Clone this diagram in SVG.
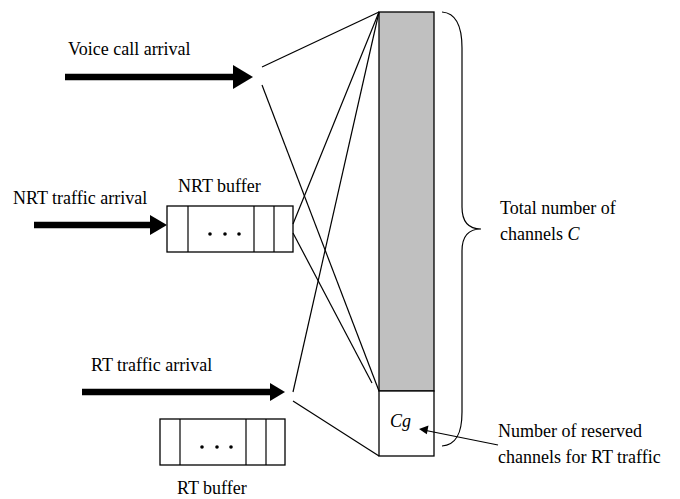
<svg xmlns="http://www.w3.org/2000/svg" width="680" height="499" viewBox="0 0 680 499">
<style>
text{font-family:'Liberation Serif','Times New Roman','DejaVu Serif',serif;font-size:18px;fill:#000}
.it{font-style:italic}
.ln{stroke:#000;stroke-width:1.2;fill:none}
.bx{stroke:#000;stroke-width:1.3;fill:#fff}
.shaft{stroke:#000;stroke-width:6.5}
</style>
<rect width="680" height="499" fill="#fff"/>

<g id="voice">
<text x="68" y="55">Voice call arrival</text>
<line class="shaft" x1="65" y1="77" x2="235" y2="77"/>
<polygon points="233,65 253,77 233,89" fill="#000"/>
</g>

<g id="nrt-arrival">
<text x="13" y="204">NRT traffic arrival</text>
<line class="shaft" x1="34" y1="225" x2="152" y2="225"/>
<polygon points="150,215 167,225 150,235" fill="#000"/>
</g>

<g id="nrt-buffer">
<text x="178" y="192">NRT buffer</text>
<rect class="bx" x="167" y="206" width="126" height="46"/>
<line class="ln" x1="188" y1="206" x2="188" y2="252"/>
<line class="ln" x1="254" y1="206" x2="254" y2="252"/>
<line class="ln" x1="274" y1="206" x2="274" y2="252"/>
<circle cx="210" cy="234" r="1.8"/>
<circle cx="225" cy="234" r="1.8"/>
<circle cx="239" cy="234" r="1.8"/>
</g>

<g id="rt-arrival">
<text x="91" y="371">RT traffic arrival</text>
<line class="shaft" x1="82" y1="392" x2="272" y2="392"/>
<polygon points="270,383 285,392 270,401" fill="#000"/>
</g>

<g id="rt-buffer">
<rect class="bx" x="160" y="419" width="125" height="46"/>
<line class="ln" x1="180" y1="419" x2="180" y2="465"/>
<line class="ln" x1="246" y1="419" x2="246" y2="465"/>
<line class="ln" x1="266" y1="419" x2="266" y2="465"/>
<circle cx="202" cy="447" r="1.8"/>
<circle cx="217" cy="447" r="1.8"/>
<circle cx="231" cy="447" r="1.8"/>
<text x="177" y="494">RT buffer</text>
</g>

<g id="channels">
<rect x="379" y="12" width="55" height="379" fill="#c0c0c0" stroke="#000" stroke-width="1.3"/>
<rect class="bx" x="379" y="391" width="55" height="65"/>
<text class="it" x="390" y="427">Cg</text>
</g>

<g id="total">
<path class="ln" d="M442,12 C456,13 462,26 462,48 L462,207 C462,222 469,229 481,229 C469,229 462,236 462,251 L462,412 C462,434 456,445 442,446"/>
<text x="500" y="214">Total number of</text>
<text x="500" y="240">channels <tspan class="it">C</tspan></text>
</g>

<g id="reserved">
<text x="498" y="437">Number of reserved</text>
<text x="498" y="463">channels for RT traffic</text>
</g>

<g id="connectors">
<line class="ln" x1="262" y1="67" x2="379" y2="12"/>
<line class="ln" x1="262" y1="85" x2="379" y2="391"/>
<line class="ln" x1="293" y1="224" x2="379" y2="12"/>
<line class="ln" x1="293" y1="233" x2="372" y2="383"/>
<line class="ln" x1="293" y1="392" x2="379" y2="12"/>
<line class="ln" x1="293" y1="401" x2="379" y2="456"/>
<line class="ln" x1="498" y1="445" x2="426" y2="430.5"/>
<polygon points="419,429 428.5,425.5 426.8,434.3" fill="#000"/>
</g>
</svg>
